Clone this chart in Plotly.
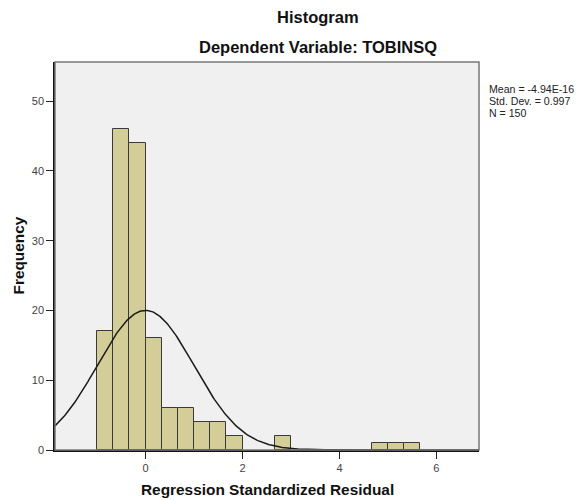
import numpy as np
import plotly.graph_objects as go

# Data
bin_left_edges = [-1.0, -0.6667, -0.3333, 0.0, 0.3333, 0.6667, 1.0, 1.3333, 1.6667,
                  2.6667, 4.6667, 5.0, 5.3333]
bin_counts = [17, 46, 44, 16, 6, 6, 4, 4, 2, 2, 1, 1, 1]
bin_width = 1.0 / 3.0
mean_val = -4.94e-16
std_dev = 0.997
n_obs = 150
x_ticks = [0, 2, 4, 6]
y_ticks = [0, 10, 20, 30, 40, 50]
stats_lines = ["Mean = -4.94E-16", "Std. Dev. = 0.997", "N = 150"]

FONT = "Arial, Liberation Sans, sans-serif"

W, H = 577, 500
# plot area in screen pixels
L, R, T, B = 55, 479, 62, 450

centers = [e + bin_width / 2 for e in bin_left_edges]

xr = [-1.87, 6.88]
yr = [0, 55.6]

xs = np.linspace(xr[0], xr[1], 400)
ys = n_obs * bin_width * np.exp(-0.5 * ((xs - mean_val) / std_dev) ** 2) / (std_dev * np.sqrt(2 * np.pi))

fig = go.Figure()
fig.add_trace(go.Bar(
    x=centers, y=bin_counts, width=[bin_width] * len(centers),
    marker=dict(color="#D3CE97", line=dict(color="#3a3a3a", width=1)),
    hoverinfo="x+y", showlegend=False,
))
fig.add_trace(go.Scatter(
    x=xs, y=ys, mode="lines", line=dict(color="#1a1a1a", width=1.5),
    showlegend=False, hoverinfo="skip",
))

def px_x(p):
    return (p - L) / (R - L)

def px_y(p):
    return (B - p) / (B - T)

annotations = [
    dict(text="<b>Histogram</b>", x=px_x(318), y=px_y(17), xref="paper", yref="paper",
         showarrow=False, font=dict(family=FONT, size=16.5, color="#111"),
         xanchor="center", yanchor="middle"),
    dict(text="<b>Dependent Variable: TOBINSQ</b>", x=px_x(318), y=px_y(47), xref="paper", yref="paper",
         showarrow=False, font=dict(family=FONT, size=16.5, color="#111"),
         xanchor="center", yanchor="middle"),
    dict(text="<b>Regression Standardized Residual</b>", x=px_x(267), y=px_y(489), xref="paper", yref="paper",
         showarrow=False, font=dict(family=FONT, size=15.4, color="#111"),
         xanchor="center", yanchor="middle"),
    dict(text="<b>Frequency</b>", x=px_x(17.5), y=px_y(256), xref="paper", yref="paper",
         showarrow=False, font=dict(family=FONT, size=15.4, color="#111"), textangle=-90,
         xanchor="center", yanchor="middle"),
]
for i, line in enumerate(stats_lines):
    annotations.append(dict(
        text=line, x=px_x(487), y=px_y(89.5 + 11.5 * i), xref="paper", yref="paper",
        showarrow=False, font=dict(family=FONT, size=10.6, color="#222"),
        xanchor="left", yanchor="middle",
    ))

fig.update_layout(
    width=W, height=H,
    margin=dict(l=L, r=W - R, t=T, b=H - B, pad=0),
    paper_bgcolor="white", plot_bgcolor="#F0F0F0",
    bargap=0,
    font=dict(family=FONT, size=11, color="#444"),
    annotations=annotations,
    shapes=[dict(type="rect", xref="paper", yref="paper", x0=0, y0=0, x1=1, y1=1,
                 line=dict(color="#777", width=1.5), layer="above")],
    xaxis=dict(range=xr, tickvals=x_ticks, ticks="outside", ticklen=7, tickcolor="#222",
               showline=True, linecolor="#111", linewidth=1.5, showgrid=False, zeroline=False,
               tickfont=dict(family=FONT, size=11, color="#444")),
    yaxis=dict(range=yr, tickvals=y_ticks, ticks="outside", ticklen=7, tickcolor="#222",
               showline=True, linecolor="#111", linewidth=1.5, showgrid=False, zeroline=False,
               tickfont=dict(family=FONT, size=11, color="#444")),
)

fig.write_html(
    "out.html",
    config={"displayModeBar": False},
    post_script="document.body.style.margin='0';document.body.style.overflow='hidden';",
)
